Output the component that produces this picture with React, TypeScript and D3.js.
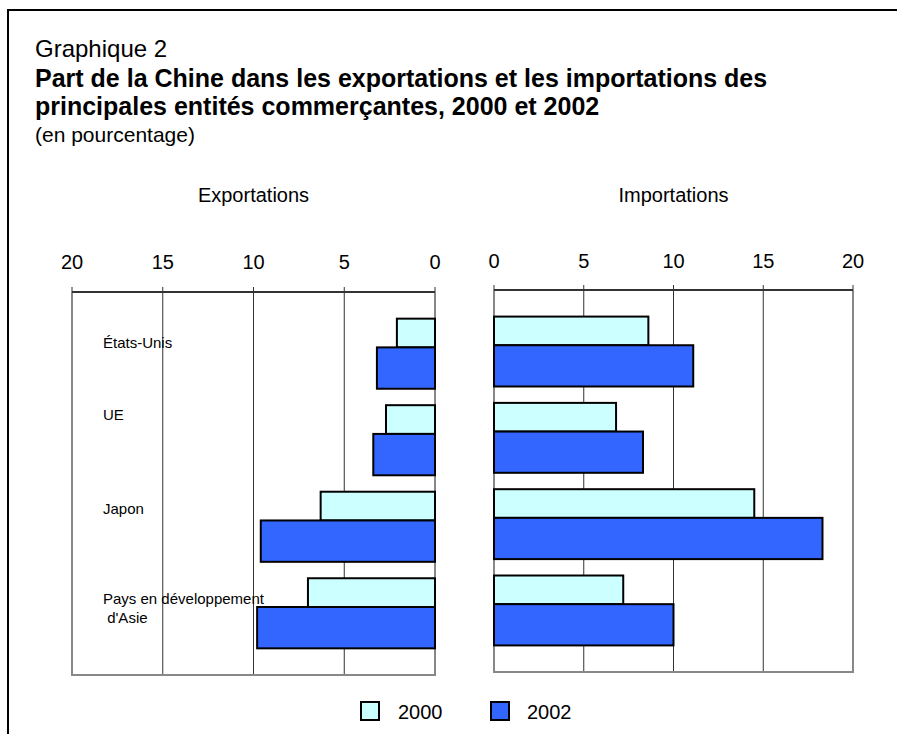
import React from "react";
import * as d3 from "d3";

const categories = ["États-Unis", "UE", "Japon", "Pays en développement"];
const categoryLines = [["États-Unis"], ["UE"], ["Japon"], ["Pays en développement", " d'Asie"]];
const exports2000 = [2.1, 2.7, 6.3, 7.0];
const exports2002 = [3.2, 3.4, 9.6, 9.8];
const imports2000 = [8.6, 6.8, 14.5, 7.2];
const imports2002 = [11.1, 8.3, 18.3, 10.0];
const tickValues = [0, 5, 10, 15, 20];
const seriesNames = ["2000", "2002"];

const W = 897;
const H = 734;
const FONT = "Liberation Sans, Arial, Helvetica, sans-serif";
const C2000 = "#CCFFFF";
const C2002 = "#3366FF";
const labelOffsets = [24, 9, 17, 20];

function Panel({ side, v2000, v2002, x0, x1, top, bottom, title, tickY }: any) {
  const x = d3.scaleLinear().domain(side === "left" ? [20, 0] : [0, 20]).range([x0, x1]);
  const y = d3.scaleBand<string>().domain(categories).range([top, bottom]).paddingInner(0.19).paddingOuter(0.308);
  const zero = x(0);
  const bw = y.bandwidth();
  const h0 = bw * 0.41;
  const h1 = bw - h0;
  return (
    <g>
      <text x={(x0 + x1) / 2} y={202} textAnchor="middle" fontSize={20} fontFamily={FONT}>{title}</text>
      {tickValues.map((t) => (
        <text key={"tl" + t} x={x(t)} y={tickY} textAnchor="middle" fontSize={20} fontFamily={FONT}>{t}</text>
      ))}
      {tickValues.filter((t) => t !== 0 && t !== 20).map((t) => (
        <line key={"g" + t} x1={x(t)} x2={x(t)} y1={top} y2={bottom} stroke="#333" strokeWidth={1} />
      ))}
      {tickValues.map((t) => (
        <line key={"tk" + t} x1={x(t)} x2={x(t)} y1={top - 5} y2={top} stroke="#333" strokeWidth={1} />
      ))}
      <path d={`M${x0},${top} V${bottom} H${x1} V${top}`} fill="none" stroke="#888" strokeWidth={2} />
      <line x1={x0} x2={x1} y1={top} y2={top} stroke="#333" strokeWidth={2} />
      {categories.map((c, i) => {
        const b = y(c) as number;
        const a0 = x(v2000[i]);
        const a1 = x(v2002[i]);
        return (
          <g key={c}>
            <rect x={Math.min(zero, a0)} y={b} width={Math.abs(a0 - zero)} height={h0} fill={C2000} stroke="#000" strokeWidth={2} />
            <rect x={Math.min(zero, a1)} y={b + h0} width={Math.abs(a1 - zero)} height={h1} fill={C2002} stroke="#000" strokeWidth={2} />
          </g>
        );
      })}
      {side === "left" && categories.map((c, i) => {
        const b = y(c) as number;
        return (
          <text key={"lab" + c} fontSize={15} fontFamily={FONT} style={{ whiteSpace: "pre" }}>
            {categoryLines[i].map((ln, j) => (
              <tspan key={j} x={103} y={b + labelOffsets[i] + j * 19.5} dominantBaseline="central">{ln}</tspan>
            ))}
          </text>
        );
      })}
    </g>
  );
}

export default function App() {
  return (
    <svg width={W} height={H} style={{ position: "absolute", left: 0, top: 0, background: "#fff" }}>
      <rect x={0} y={0} width={W} height={H} fill="#fff" />
      <path d={`M8,${H} V10 H${W}`} fill="none" stroke="#000" strokeWidth={2} />
      <text x={35} y={57} fontSize={24} fontFamily={FONT}>Graphique 2</text>
      <text x={35} y={87} fontSize={25} fontWeight="bold" fontFamily={FONT}>Part de la Chine dans les exportations et les importations des</text>
      <text x={35} y={115} fontSize={25} fontWeight="bold" fontFamily={FONT}>principales entités commerçantes, 2000 et 2002</text>
      <text x={35} y={142} fontSize={21} fontFamily={FONT}>(en pourcentage)</text>
      <Panel side="left" v2000={exports2000} v2002={exports2002} x0={72} x1={435} top={292} bottom={675} title="Exportations" tickY={269} />
      <Panel side="right" v2000={imports2000} v2002={imports2002} x0={494} x1={853} top={290} bottom={672} title="Importations" tickY={268} />
      {seriesNames.map((s, i) => (
        <g key={s}>
          <rect x={361 + i * 130} y={702} width={18} height={18} fill={i === 0 ? C2000 : C2002} stroke="#000" strokeWidth={2} />
          <text x={398 + i * 129} y={719} fontSize={20} fontFamily={FONT}>{s}</text>
        </g>
      ))}
    </svg>
  );
}
